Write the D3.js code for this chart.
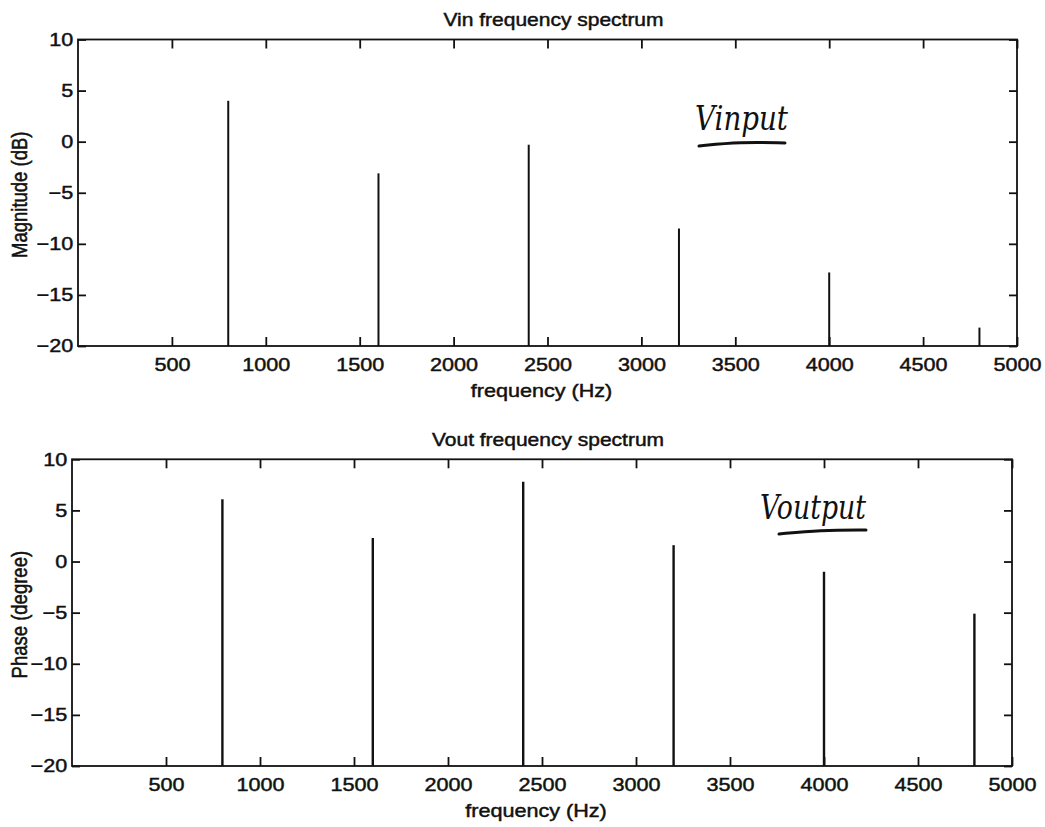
<!DOCTYPE html>
<html>
<head>
<meta charset="utf-8">
<script src="https://cdn.jsdelivr.net/npm/d3@7"></script>
<style>
  html, body { margin: 0; padding: 0; background: #fff; }
  svg { display: block; }
  text { font-family: "Liberation Sans", Arial, Helvetica, sans-serif; fill: #111; }
  .ink { stroke: #111; stroke-width: 0.45px; }
</style>
</head>
<body>
<svg id="chart" width="1045" height="827"></svg>
<script>
// ---- data ----
const freqs = [800, 1600, 2400, 3200, 4000, 4800];
const vinMagnitude = [4.0, -3.1, -0.3, -8.5, -12.8, -18.2];
const voutPhase = [6.1, 2.3, 7.8, 1.6, -1.0, -5.1];
const xTicks = [500, 1000, 1500, 2000, 2500, 3000, 3500, 4000, 4500, 5000];
const yTicks = [-20, -15, -10, -5, 0, 5, 10];
const titles = ["Vin frequency spectrum", "Vout frequency spectrum"];
const yLabels = ["Magnitude (dB)", "Phase (degree)"];
const xLabel = "frequency (Hz)";
const notes = ["Vinput", "Voutput"];

const svg = d3.select("#chart");
const SX = 1.2; // horizontal stretch of the scanned figure

const panels = [
  { values: vinMagnitude, title: titles[0], ylab: yLabels[0], note: notes[0],
    x0: 78, x1: 1017, yTop: 39.5, yBot: 346, stem: 2.0,
    noteX: 695, noteY: 130, noteW: 93, ul: [[699,146],[740,142],[785,143]] },
  { values: voutPhase, title: titles[1], ylab: yLabels[1], note: notes[1],
    x0: 72, x1: 1012, yTop: 459.3, yBot: 766, stem: 2.4,
    noteX: 760, noteY: 519, noteW: 106, ul: [[779,534],[820,530],[866,530]] }
];

panels.forEach(p => {
  const x = d3.scaleLinear().domain([0, 5000]).range([p.x0, p.x1]);
  const y = d3.scaleLinear().domain([-20, 10]).range([p.yBot, p.yTop]);
  const g = svg.append("g");

  // frame
  g.append("rect")
    .attr("x", p.x0).attr("y", p.yTop)
    .attr("width", p.x1 - p.x0).attr("height", p.yBot - p.yTop)
    .attr("fill", "none").attr("stroke", "#111").attr("stroke-width", 1.8);

  const xb = g.append("g").attr("transform", `translate(0,${p.yBot})`)
    .call(d3.axisBottom(x).tickValues(xTicks).tickSizeInner(-9).tickSizeOuter(0).tickPadding(19).tickFormat(d3.format("d")));
  const xt = g.append("g").attr("transform", `translate(0,${p.yTop})`)
    .call(d3.axisTop(x).tickValues(xTicks).tickSizeInner(-9).tickSizeOuter(0).tickFormat(""));
  const yl = g.append("g").attr("transform", `translate(${p.x0},0)`)
    .call(d3.axisLeft(y).tickValues(yTicks).tickSizeInner(-8).tickSizeOuter(0).tickPadding(4));
  const yr = g.append("g").attr("transform", `translate(${p.x1},0)`)
    .call(d3.axisRight(y).tickValues(yTicks).tickSizeInner(-8).tickSizeOuter(0).tickFormat(""));

  [xb, xt, yl, yr].forEach(a => {
    a.select(".domain").remove();
    a.selectAll("line").attr("stroke", "#111").attr("stroke-width", 1.8);
    a.selectAll("text")
      .attr("class", "ink")
      .style("font-family", '"Liberation Sans", Arial, sans-serif')
      .style("font-size", "18px").attr("fill", "#111")
      .text(function() { return d3.select(this).text().replace("-", "\u2212"); });
  });
  xb.selectAll("text").attr("dy", "0.32em").attr("transform", `scale(${SX},1)`);
  yl.selectAll("text").attr("transform", `scale(${SX},1)`);

  // stems
  g.selectAll("line.stem").data(freqs).join("line")
    .attr("class", "stem")
    .attr("x1", d => x(d)).attr("x2", d => x(d))
    .attr("y1", y(-20))
    .attr("y2", (d, i) => y(p.values[i]))
    .attr("stroke", "#111").attr("stroke-width", p.stem);

  const cx = (p.x0 + p.x1) / 2 + 6;
  g.append("text").attr("class", "ink").attr("transform", `translate(${cx},${p.yTop - 13.5}) scale(${SX},1)`)
    .attr("text-anchor", "middle").style("font-size", "17.5px").text(p.title);
  g.append("text").attr("class", "ink").attr("transform", `translate(${cx - 12},${p.yBot + 51}) scale(${SX},1)`)
    .attr("text-anchor", "middle").style("font-size", "18px").text(xLabel);
  g.append("text").attr("class", "ink").attr("transform", `translate(27,${(p.yTop + p.yBot) / 2 + 2}) rotate(-90) scale(1,${SX})`)
    .attr("text-anchor", "middle").style("font-size", "18.5px").text(p.ylab);

  // handwritten note
  g.append("text").attr("x", p.noteX).attr("y", p.noteY)
    .attr("textLength", p.noteW).attr("lengthAdjust", "spacingAndGlyphs")
    .style("font-family", '"DejaVu Serif", serif').style("font-style", "italic")
    .style("font-size", "34px").text(p.note);
  g.append("path").attr("d", d3.line().curve(d3.curveBasis)(p.ul))
    .attr("fill", "none").attr("stroke", "#111").attr("stroke-width", 3).attr("stroke-linecap", "round");
});
</script>
</body>
</html>
